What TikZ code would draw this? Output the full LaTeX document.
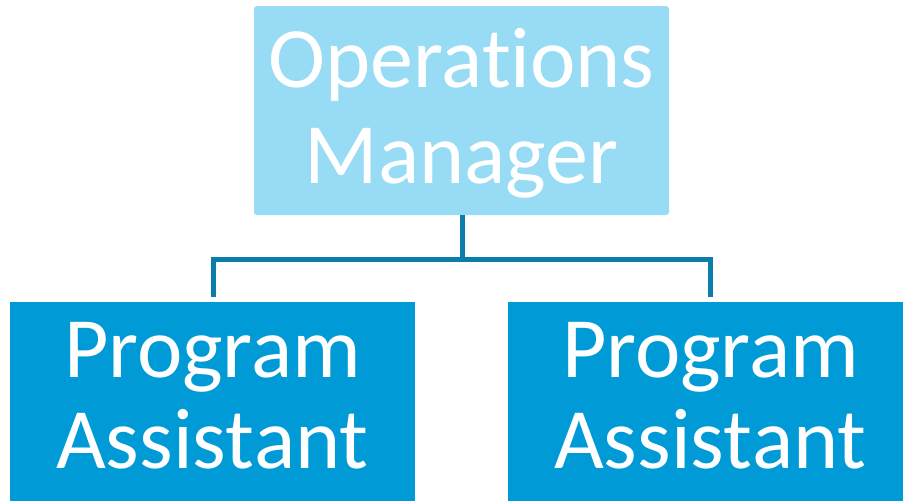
\documentclass[tikz,border=0pt]{standalone}
\usepackage{fontspec}
\setmainfont[Ligatures=NoCommon]{Carlito}
\definecolor{toplight}{HTML}{97DCF4}
\definecolor{botblue}{HTML}{009BD6}
\definecolor{linkblue}{HTML}{0A7DAB}
\newcommand{\nolig}{\kern0pt{}}
\begin{document}
\begin{tikzpicture}[x=1pt,y=-1pt,
  topbox/.style={fill=toplight,draw=none,rounded corners=3pt,inner sep=0pt},
  botbox/.style={fill=botblue,draw=none,inner sep=0pt},
  boxtext/.style={text=white,anchor=base,inner sep=0pt,font=\fontsize{86}{96}\selectfont},
  link/.style={draw=linkblue,line width=5pt}]
\useasboundingbox (0,0) rectangle (903,501);
\node[topbox,minimum width=415pt,minimum height=209pt] (om) at (461.5,110.5) {};
\node[botbox,minimum width=405pt,minimum height=204pt] (pa1) at (212.5,404) {};
\node[botbox,minimum width=405pt,minimum height=204pt] (pa2) at (710.5,404) {};
\node[boxtext] (om1) at (461.5,87) {Operat\nolig ions};
\node[boxtext] (om2) at (461.5,183) {Manager};
\node[boxtext] (pa1a) at (212.5,377) {Program};
\node[boxtext] (pa1b) at (212.5,468) {Assist\nolig ant};
\node[boxtext] (pa2a) at (710.5,377) {Program};
\node[boxtext] (pa2b) at (710.5,468) {Assist\nolig ant};
\coordinate (hub) at (462,259);
\coordinate (l1) at (213,259);
\coordinate (l2) at (710,259);
\coordinate (e1) at (213,297);
\coordinate (e2) at (710,297);
\draw[link] (om.south -| hub) -- (hub);
\draw[link] (e1) -- (l1) -- (l2) -- (e2);
\end{tikzpicture}
\end{document}
